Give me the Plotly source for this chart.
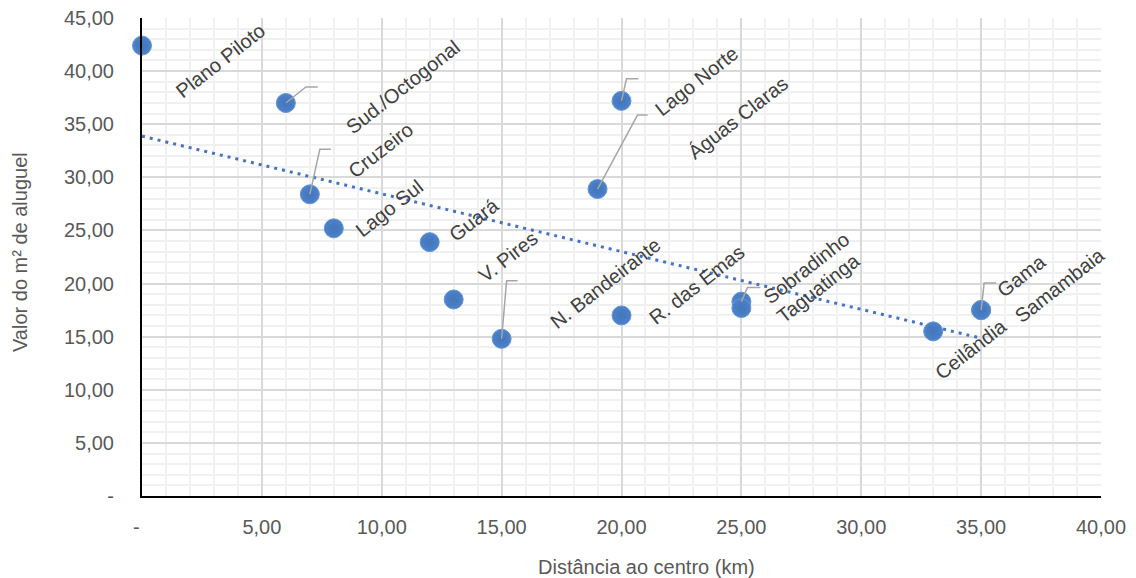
import numpy as np
import plotly.graph_objects as go

# ---- data ----
regions = ["Plano Piloto", "Sud./Octogonal", "Cruzeiro", "Lago Sul", "Guará",
           "N. Bandeirante", "V. Pires", "Águas Claras", "Lago Norte", "R. das Emas",
           "Sobradinho", "Taguatinga", "Ceilândia", "Gama", "Samambaia"]
distance_km = [0, 6, 7, 8, 12, 13, 15, 19, 20, 20, 25, 25, 33, 35, 35]
rent_m2 = [42.4, 37.0, 28.4, 25.2, 23.9, 18.5, 14.8, 28.9, 37.2, 17.0, 18.3, 17.7, 15.5, 17.5, 17.5]

x_ticks = [0, 5, 10, 15, 20, 25, 30, 35, 40]
x_ticktext = ["-  ", "5,00", "10,00", "15,00", "20,00", "25,00", "30,00", "35,00", "40,00"]
y_ticks = [0, 5, 10, 15, 20, 25, 30, 35, 40, 45]
y_ticktext = ["-", "5,00", "10,00", "15,00", "20,00", "25,00", "30,00", "35,00", "40,00", "45,00"]

# ---- label placement (pixel shifts of label centre from its point) ----
label_shift = {
    "Plano Piloto": (78, -15), "Sud./Octogonal": (117, 16), "Cruzeiro": (71, 44),
    "Lago Sul": (56, 20), "Guará": (44, 22), "N. Bandeirante": (152, 16),
    "V. Pires": (6, 82), "Águas Claras": (140, 71), "Lago Norte": (75, 20),
    "R. das Emas": (75, 30), "Sobradinho": (65, 34), "Taguatinga": (77, 20),
    "Ceilândia": (38, -18), "Gama": (40, 34), "Samambaia": (79, 25),
}
# leader lines: (bend dx, bend dy, end dx) in pixels, dy screen-down
leaders = {
    "Sud./Octogonal": (20, -16, 32), "Cruzeiro": (10, -45, 21), "V. Pires": (5, -58, 16),
    "Lago Norte": (5, -22, 17), "Águas Claras": (40, -74, 50), "Sobradinho": (6, -14, 19),
    "Gama": (3, -27, 15),
}

W, H = 1136, 578
ML, MR, MT, MB = 142, 35, 18, 82
PW, PH = W - ML - MR, H - MT - MB
XR, YR = (0, 40), (0, 45)
ux = (XR[1] - XR[0]) / PW
uy = (YR[1] - YR[0]) / PH
FONT = "Liberation Sans, Arial"

blue = "#4D82CA"
fig = go.Figure()

# trendline (linear fit)
slope, inter = np.polyfit(distance_km, rent_m2, 1)
tx = np.array([0, max(distance_km)])
fig.add_trace(go.Scatter(x=tx, y=slope * tx + inter, mode="lines",
                         line=dict(color="#4472C4", width=3, dash="3px,5px"),
                         hoverinfo="skip", showlegend=False))

fig.add_trace(go.Scatter(x=distance_km, y=rent_m2, mode="markers", text=regions,
                         cliponaxis=False,
                         marker=dict(size=19, color=blue,
                                     line=dict(color="#6396D8", width=1),
                                     gradient=dict(type="radial", color="#4274B8")),
                         showlegend=False))

lx, ly = [], []
for name, (bx, by, ex) in leaders.items():
    i = regions.index(name)
    x0, y0 = distance_km[i], rent_m2[i]
    lx += [x0, x0 + bx * ux, x0 + ex * ux, None]
    ly += [y0, y0 - by * uy, y0 - by * uy, None]
fig.add_trace(go.Scatter(x=lx, y=ly, mode="lines", line=dict(color="#A6A6A6", width=1.5),
                         hoverinfo="skip", showlegend=False))

for name, xv, yv in zip(regions, distance_km, rent_m2):
    sx, sy = label_shift[name]
    fig.add_annotation(x=xv, y=yv, text=name, showarrow=False, textangle=-38,
                       xanchor="center", yanchor="middle", xshift=sx, yshift=sy,
                       font=dict(family=FONT, size=20, color="#404040"))

# axis titles placed in paper coordinates (pixel positions from the reference)
fig.add_annotation(x=(646 - ML) / PW, y=-(567 - (H - MB)) / PH, xref="paper", yref="paper",
                   text="Distância ao centro (km)", showarrow=False,
                   xanchor="center", yanchor="middle",
                   font=dict(family=FONT, size=20, color="#595959"))
fig.add_annotation(x=(20 - ML) / PW, y=1 - (252 - MT) / PH, xref="paper", yref="paper",
                   text="Valor do m² de aluguel", showarrow=False, textangle=-90,
                   xanchor="center", yanchor="middle",
                   font=dict(family=FONT, size=20, color="#595959"))

axis_common = dict(showgrid=True, gridcolor="#D9D9D9", gridwidth=1.5, zeroline=False,
                   showline=True, linecolor="black", linewidth=2, ticks="", automargin=False,
                   tickfont=dict(family=FONT, size=20, color="#595959"))

fig.update_layout(
    width=W, height=H, margin=dict(l=ML, r=MR, t=MT, b=MB),
    paper_bgcolor="white", plot_bgcolor="white",
    xaxis=dict(range=list(XR), tickvals=x_ticks, ticktext=x_ticktext, ticklabelstandoff=12,
               minor=dict(dtick=1, showgrid=True, gridcolor="#F0F0F0", gridwidth=1.5),
               **axis_common),
    yaxis=dict(range=list(YR), tickvals=y_ticks, ticktext=y_ticktext, ticklabelstandoff=22,
               minor=dict(dtick=1, showgrid=True, gridcolor="#F0F0F0", gridwidth=1.5),
               **axis_common),
)

fig.write_html("out.html", config={"displayModeBar": False},
               post_script="document.body.style.margin='0px';")
